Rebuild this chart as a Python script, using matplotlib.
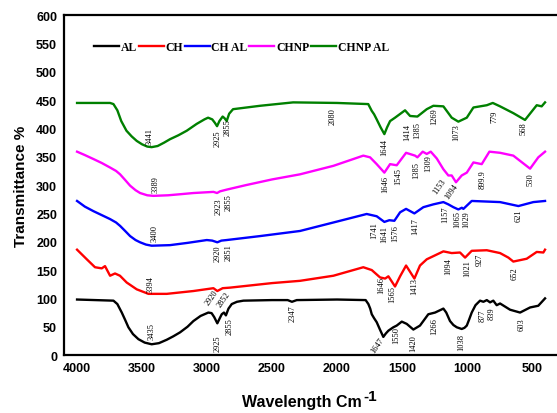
import matplotlib
matplotlib.use("Agg")
import matplotlib.pyplot as plt

# FTIR spectra (wavenumber, transmittance)
al_x = [4000, 3720, 3690, 3656, 3630, 3605, 3570, 3528, 3480, 3426, 3370, 3310, 3260, 3208,
        3150, 3105, 3050, 2990, 2965, 2945, 2921, 2900, 2887, 2870, 2855, 2835, 2810, 2770,
        2720, 2500, 2380, 2347, 2310, 2000, 1780, 1759, 1745, 1733, 1715, 1695, 1670, 1644,
        1625, 1605, 1567, 1541, 1502, 1464, 1413, 1362, 1298, 1246, 1200, 1182, 1160, 1131,
        1105, 1079, 1041, 1020, 1002, 985, 964, 935, 900, 874, 848, 823, 798, 772, 746, 669,
        592, 515, 452, 400]
al_y = [98, 96, 90, 75, 62, 49, 37, 28, 22, 19, 21, 27, 33, 40,
        50, 60, 69, 75, 74, 67, 56, 66, 72, 75, 70, 82, 90, 94,
        96, 97, 97, 94, 97, 98, 97, 90, 82, 72, 65, 58, 45, 32,
        38, 43, 49, 52, 59, 55, 45, 52, 72, 75, 80, 82, 75, 60,
        53, 49, 46, 48, 52, 62, 75, 88, 96, 94, 97, 93, 96, 88, 91, 80,
        75, 84, 87, 100]

ch_x = [4000, 3925, 3862, 3810, 3785, 3746, 3708, 3670, 3618, 3541, 3451, 3310, 3105, 2951,
        2921, 2880, 2823, 2500, 2285, 2028, 1798, 1733, 1669, 1630, 1605, 1554, 1515, 1469,
        1405, 1362, 1310, 1182, 1118, 1054, 1015, 964, 848, 746, 682, 644, 541, 464, 413, 400]
ch_y = [186, 169, 155, 153, 157, 140, 144, 140, 128, 116, 108, 108, 113, 118,
        113, 118, 119, 127, 131, 140, 155, 150, 137, 135, 139, 121, 139, 158,
        135, 158, 169, 183, 180, 181, 172, 184, 185, 180, 172, 165, 170, 182, 181, 186]

chal_x = [4000, 3940, 3874, 3810, 3746, 3700, 3669, 3630, 3592, 3550, 3515, 3470, 3426, 3285,
          3150, 3002, 2960, 2921, 2890, 2849, 2592, 2285, 2028, 1772, 1695, 1636, 1598, 1559,
          1515, 1469, 1405, 1336, 1259, 1182, 1144, 1105, 1067, 1040, 1028, 964, 746, 605,
          490, 400]
chal_y = [272, 262, 254, 247, 240, 234, 228, 219, 210, 203, 199, 195, 193, 194,
          198, 203, 202, 199, 202, 203, 210, 219, 234, 249, 245, 235, 238, 237,
          252, 258, 250, 261, 266, 270, 266, 261, 257, 260, 258, 272, 270, 263,
          270, 272]

chnp_x = [4000, 3940, 3874, 3810, 3746, 3700, 3669, 3630, 3592, 3550, 3515, 3460, 3413, 3300,
          3200, 3105, 2951, 2923, 2900, 2849, 2700, 2500, 2285, 2028, 1798, 1746, 1695, 1636,
          1592, 1541, 1469, 1400, 1382, 1341, 1310, 1279, 1233, 1182, 1144, 1118, 1085, 1041,
          1002, 951, 887, 828, 746, 644, 515, 452, 400]
chnp_y = [359, 353, 346, 339, 331, 325, 319, 309, 299, 291, 286, 282, 281, 282,
          284, 286, 288, 286, 289, 292, 300, 310, 319, 334, 352, 349, 337, 322,
          337, 335, 357, 352, 349, 359, 355, 359, 347, 328, 317, 317, 305, 317,
          322, 340, 337, 359, 357, 352, 329, 349, 359]

chnpal_x = [4000, 3746, 3720, 3690, 3660, 3620, 3580, 3541, 3500, 3460, 3426, 3380, 3330, 3285,
            3220, 3156, 3080, 3020, 2992, 2960, 2940, 2923, 2905, 2880, 2865, 2849, 2830, 2800,
            2592, 2338, 2000, 1760, 1733, 1715, 1695, 1665, 1636, 1615, 1592, 1554, 1477, 1438,
            1382, 1310, 1259, 1182, 1118, 1067, 1002, 951, 848, 802, 746, 644, 554, 464, 426,
            400]
chnpal_y = [445, 445, 443, 432, 413, 396, 386, 378, 372, 368, 367, 369, 375, 381,
            388, 396, 408, 416, 419, 416, 410, 404, 413, 421, 418, 413, 426, 434,
            440, 446, 445, 443, 431, 425, 416, 402, 390, 402, 413, 419, 432, 422,
            421, 434, 440, 439, 419, 412, 419, 437, 441, 445, 439, 427, 415, 441, 439,
            446]

series_names = ["AL", "CH", "CH AL", "CHNP", "CHNP AL"]
series_colors = ["black", "red", "blue", "magenta", "green"]

# peak labels: text, x, y, rotation
peak_labels = [
    ("3441", 3444, 387, 90), ("2925", 2921, 384, 90), ("2855", 2841, 404, 90),
    ("2080", 2036, 422, 90), ("1644", 1636, 369, 90), ("1414", 1459, 394, 90),
    ("1385", 1382, 399, 90), ("1269", 1251, 422, 90), ("1073", 1085, 394, 90),
    ("779", 792, 422, 90), ("568", 562, 401, 90),
    ("3389", 3395, 302, 90), ("2923", 2913, 264, 90), ("2855", 2831, 271, 90),
    ("1646", 1631, 302, 90), ("1545", 1528, 317, 90), ("1385", 1392, 327, 90),
    ("1309", 1298, 340, 90), ("1153", 1213, 299, 55), ("1094", 1118, 290, 55),
    ("899.9", 882, 311, 90), ("530", 510, 311, 90),
    ("3400", 3400, 217, 90), ("2920", 2921, 180, 90), ("2851", 2836, 182, 90),
    ("1741", 1715, 222, 90), ("1641", 1638, 215, 90), ("1576", 1554, 217, 90),
    ("1417", 1400, 229, 90), ("1157", 1164, 249, 90), ("1065", 1079, 241, 90),
    ("1029", 1008, 241, 90), ("621", 605, 247, 90),
    ("3394", 3431, 127, 90), ("2920", 2964, 102, 55), ("2852", 2875, 99, 55),
    ("1646", 1662, 124, 90), ("1565", 1572, 108, 90), ("1413", 1405, 122, 90),
    ("1094", 1148, 158, 90), ("1021", 1002, 155, 90), ("927", 905, 169, 90),
    ("652", 636, 145, 90),
    ("3435", 3426, 43, 90), ("2925", 2921, 21, 90), ("2855", 2828, 52, 90),
    ("2347", 2344, 75, 90), ("1647", 1690, 17, 55), ("1550", 1541, 37, 90),
    ("1420", 1413, 22, 90), ("1266", 1251, 52, 90), ("1038", 1046, 24, 90),
    ("877", 879, 72, 90), ("839", 810, 75, 90), ("603", 579, 55, 90),
]

W, H = 557, 414
fig = plt.figure(figsize=(W / 100, H / 100), dpi=100)
ax = fig.add_axes([0.115, 0.140, 0.885, 0.821])

curves = [(al_x, al_y), (ch_x, ch_y), (chal_x, chal_y), (chnp_x, chnp_y), (chnpal_x, chnpal_y)]
for (xs, ys), name, c in zip(curves, series_names, series_colors):
    ax.plot(xs, ys, color=c, lw=1.7, label=name, solid_joinstyle="round")

for txt, x, y, rot in peak_labels:
    ax.text(x, y, txt, rotation=rot, ha="center", va="center",
            fontsize=6, family="Liberation Serif")

ax.set_xlim(4100, 308)
ax.set_ylim(0, 600)
ax.set_xticks(range(4000, 499, -500))
ax.set_yticks(range(0, 601, 50))
ax.tick_params(length=0, pad=5)
for lab in ax.get_xticklabels() + ax.get_yticklabels():
    lab.set_fontweight("bold")
    lab.set_fontsize(9)
    lab.set_family("Liberation Sans")
for side in ["left", "bottom", "top"]:
    ax.spines[side].set_linewidth(1.6)
ax.spines["right"].set_visible(False)

ax.set_ylabel("Transmittance %", fontsize=11, fontweight="bold", family="Liberation Sans", labelpad=6)
# x label with a large superscript, as in the original
fig.text(361.5 / W, 1 - 407 / H, "Wavelength Cm", ha="right", va="baseline",
         fontsize=11.5, fontweight="bold", family="Liberation Sans")
fig.text(363 / W, 1 - 401 / H, "-1", ha="left", va="baseline",
         fontsize=11, fontweight="bold", family="Liberation Sans")

ax.legend(loc="center", bbox_to_anchor=(0.36, 0.906), ncol=5, frameon=False,
          handlelength=2.1, handletextpad=0.15, columnspacing=0.15,
          prop={"family": "Liberation Serif", "weight": "bold", "size": 8.5})

fig.savefig("out.png", dpi=100)
